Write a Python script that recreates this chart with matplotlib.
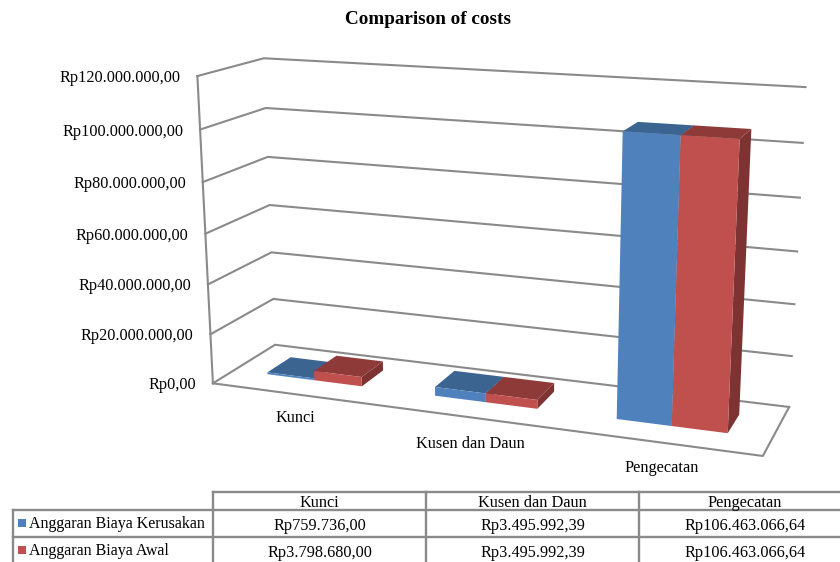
import numpy as np
import matplotlib
matplotlib.use('Agg')
import matplotlib.pyplot as plt
from matplotlib.patches import Polygon, Rectangle

plt.rcParams['font.family'] = ['Liberation Serif', 'DejaVu Serif']

# Data
categories = ['Kunci', 'Kusen dan Daun', 'Pengecatan']
kerusakan = [759736.00, 3495992.39, 106463066.64]
awal = [3798680.00, 3495992.39, 106463066.64]
kerusakan_labels = ['Rp759.736,00', 'Rp3.495.992,39', 'Rp106.463.066,64']
awal_labels = ['Rp3.798.680,00', 'Rp3.495.992,39', 'Rp106.463.066,64']
series_names = ['Anggaran Biaya Kerusakan', 'Anggaran Biaya Awal']
ticks = [0, 20e6, 40e6, 60e6, 80e6, 100e6, 120e6]
tick_labels = ['Rp0,00', 'Rp20.000.000,00', 'Rp40.000.000,00', 'Rp60.000.000,00',
               'Rp80.000.000,00', 'Rp100.000.000,00', 'Rp120.000.000,00']

GRID = '#8a8a8a'
VMAX = 120e6
FS = 11.7

# Fit the camera of the 3D box from where its frame sits on the canvas
frame_3d = [(0, 0, 0), (1, 0, 0), (0, 0, 1), (1, 0, 1), (0, 1, 0), (0, 1, 1), (1, 1, 1),
            (0, 5/6, 0), (0, 4/6, 0), (0, 5/6, 1), (0, 1/6, 1), (1, 5/6, 1), (1, 1/6, 1)]
frame_px = [(213, 383), (763, 456), (275, 345), (789, 407), (197, 76), (264, 58), (806, 87),
            (200, 130), (203, 182), (266, 108), (273, 299), (802, 143), (792, 356)]
A, b = [], []
for (X, Y, Z), (u, v) in zip(frame_3d, frame_px):
    A.append([X, Y, Z, 1, 0, 0, 0, 0, -u*X, -u*Y, -u*Z])
    A.append([0, 0, 0, 0, X, Y, Z, 1, -v*X, -v*Y, -v*Z])
    b += [u, v]
P = np.append(np.linalg.lstsq(np.array(A, float), np.array(b, float), rcond=None)[0], 1).reshape(3, 4)


def proj(x, val, d):
    h = P @ np.array([x, val / VMAX, d, 1])
    return h[0] / h[2], h[1] / h[2]


fig = plt.figure(figsize=(8.4, 5.62), dpi=100)
ax = fig.add_axes([0, 0, 1, 1])
ax.set_xlim(0, 840)
ax.set_ylim(562, 0)
ax.axis('off')

# Walls and floor
for t in ticks:
    pts = [proj(0, t, 0), proj(0, t, 1), proj(1, t, 1)]
    ax.plot(*zip(*pts), color=GRID, lw=1.5, zorder=1, solid_joinstyle='miter')
ax.plot(*zip(proj(0, 0, 0), proj(0, VMAX, 0)), color=GRID, lw=1.5, zorder=1)
ax.plot(*zip(proj(0, 0, 0), proj(1, 0, 0), proj(1, 0, 1)), color=GRID, lw=1.5, zorder=1)

for i, t in enumerate(ticks):
    x, y = proj(0, t, 0)
    ax.text(x - 17, y + 6, tick_labels[i], ha='right', va='baseline', fontsize=FS, color='black')


# Bars
def bar(x0, x1, val, front, top, side, d0=0.33, d1=0.72):
    z = 2 + x0
    ax.add_patch(Polygon([proj(x1, 0, d0), proj(x1, 0, d1), proj(x1, val, d1), proj(x1, val, d0)],
                         fc=side, ec='none', zorder=z))
    ax.add_patch(Polygon([proj(x0, val, d0), proj(x1, val, d0), proj(x1, val, d1), proj(x0, val, d1)],
                         fc=top, ec='none', zorder=z))
    ax.add_patch(Polygon([proj(x0, 0, d0), proj(x1, 0, d0), proj(x1, val, d0), proj(x0, val, d0)],
                         fc=front, ec='none', zorder=z))


label_drop = [28, 31, 29]
for i in range(3):
    c = (i + 0.5) / 3
    bar(c - 0.098, c - 0.002, kerusakan[i], '#4F81BD', '#3C6491', '#3C6491')
    bar(c - 0.002, c + 0.093, awal[i], '#C0504D', '#8E3A38', '#7D3331')

    x, y = proj(c, 0, 0)
    ax.text(x, y + label_drop[i], categories[i], ha='center', va='baseline', fontsize=FS)

ax.text(428, 24, 'Comparison of costs', ha='center', va='baseline', fontsize=13.8, fontweight='bold')

# Data table under the chart
col_x = [213, 426, 639]
col_mid = [319.5, 532.5, 745]
ax.plot([213, 840], [492, 492], color=GRID, lw=1.7)
ax.plot([13, 840], [510, 510], color=GRID, lw=1.7)
ax.plot([13, 840], [537, 537], color=GRID, lw=1.7)
ax.plot([13, 13], [510, 562], color=GRID, lw=1.7)
for x in col_x:
    ax.plot([x, x], [492, 562], color=GRID, lw=1.7)

for i in range(3):
    ax.text(col_mid[i], 507, categories[i], ha='center', va='baseline', fontsize=FS)
    ax.text(col_mid[i], 530, kerusakan_labels[i], ha='center', va='baseline', fontsize=FS)
    ax.text(col_mid[i], 557, awal_labels[i], ha='center', va='baseline', fontsize=FS)

for name, y, color in zip(series_names, [523, 550], ['#4F81BD', '#C0504D']):
    ax.add_patch(Rectangle((18, y - 4), 8, 8, fc=color, ec='none'))
    ax.text(29, y + 5, name, ha='left', va='baseline', fontsize=11.5)

fig.savefig('out.png', dpi=100)
